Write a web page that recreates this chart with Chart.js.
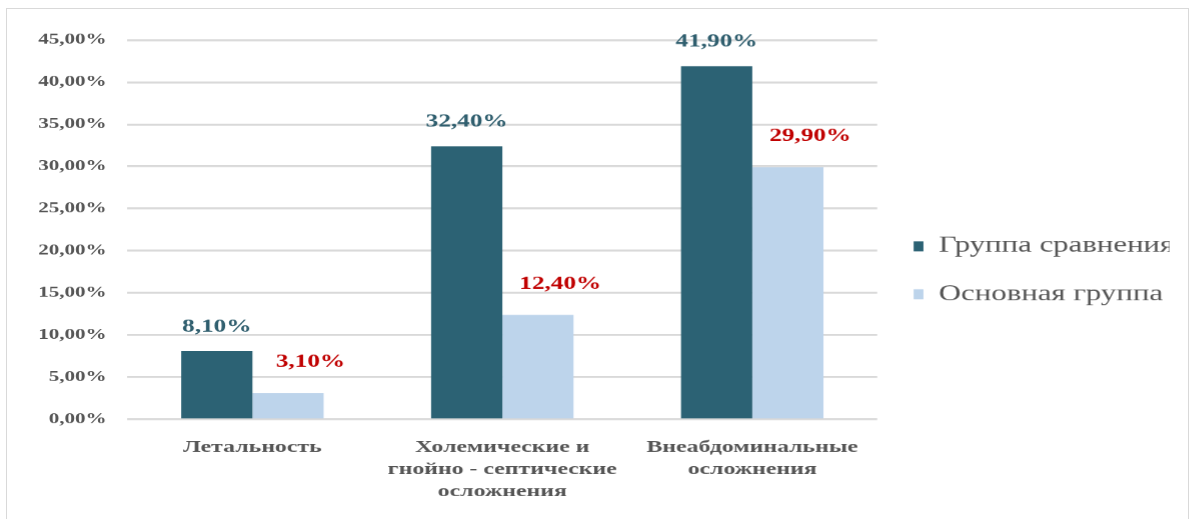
<!DOCTYPE html>
<html lang="ru">
<head>
<meta charset="utf-8">
<title>Осложнения по группам</title>
<script src="https://cdn.jsdelivr.net/npm/chart.js@4.4.1/dist/chart.umd.min.js"></script>
<style>
    html, body {
        margin: 0;
        padding: 0;
        width: 1195px;
        height: 519px;
        overflow: hidden;
        background: #ffffff;
    }
    .frame {
        position: absolute;
        left: 6px;
        top: 8px;
        width: 1183px;
        height: 520px;
        border: 1px solid #d9d9d9;
        box-sizing: border-box;
    }
    /* шрифт в оригинале растянут по горизонтали */
    #chart {
        position: absolute;
        left: 0;
        top: 0;
        transform: scaleX(1.4);
        transform-origin: 0 0;
    }
</style>
</head>
<body>
<div class="frame"></div>
<canvas id="chart" width="854" height="519"></canvas>

<script>
// ========================================
// ДАННЫЕ
// ========================================

const categories = [
    ['Летальность'],
    ['Холемические и', 'гнойно - септические', 'осложнения'],
    ['Внеабдоминальные', 'осложнения']
];
const seriesNames = ['Группа сравнения', 'Основная группа'];
const comparisonGroup = [8.1, 32.4, 41.9];
const mainGroup = [3.1, 12.4, 29.9];
const yTicks = [0, 5, 10, 15, 20, 25, 30, 35, 40, 45];

const COLOR_DARK = '#2c6274';
const COLOR_LIGHT = '#bdd4eb';
const LABEL_DARK = '#2f5e6e';
const LABEL_RED = '#c00000';
const TEXT_GRAY = '#555555';
const SERIF = '"Liberation Serif", "Times New Roman", serif';

function formatPercent(v) {
    return v.toFixed(2).replace('.', ',') + '%';
}

// ========================================
// ПОДПИСИ ЗНАЧЕНИЙ
// ========================================

const valueLabels = {
    id: 'valueLabels',
    afterDatasetsDraw(chart) {
        const ctx = chart.ctx;
        ctx.save();
        ctx.font = 'bold 18px ' + SERIF;
        ctx.textAlign = 'center';
        ctx.textBaseline = 'middle';
        chart.data.datasets.forEach((ds, i) => {
            const meta = chart.getDatasetMeta(i);
            meta.data.forEach((bar, j) => {
                if (i === 0) {
                    // над столбцом
                    ctx.fillStyle = LABEL_DARK;
                    ctx.fillText(formatPercent(ds.data[j]), bar.x, bar.y - 24);
                } else {
                    // выше и правее столбца
                    ctx.fillStyle = LABEL_RED;
                    ctx.fillText(formatPercent(ds.data[j]), bar.x + 16, bar.y - 31);
                }
            });
        });
        ctx.restore();
    }
};

// ========================================
// ГРАФИК
// ========================================

const chart = new Chart(document.getElementById('chart'), {
    type: 'bar',
    data: {
        labels: categories,
        datasets: [
            {
                label: seriesNames[0],
                data: comparisonGroup,
                backgroundColor: COLOR_DARK,
                categoryPercentage: 0.57,
                barPercentage: 1.0
            },
            {
                label: seriesNames[1],
                data: mainGroup,
                backgroundColor: COLOR_LIGHT,
                categoryPercentage: 0.57,
                barPercentage: 1.0
            }
        ]
    },
    options: {
        responsive: false,
        devicePixelRatio: 1.4,
        animation: false,
        layout: {
            padding: { top: 40, left: 0, right: 19, bottom: 19 }
        },
        scales: {
            x: {
                grid: { display: false, drawTicks: false },
                border: { display: false },
                afterFit(axis) {
                    axis.height = 81;
                },
                ticks: {
                    color: TEXT_GRAY,
                    padding: 17,
                    maxRotation: 0,
                    autoSkip: false,
                    font: { family: SERIF, size: 17, weight: 'bold', lineHeight: 1.3 }
                }
            },
            y: {
                min: 0,
                max: 45,
                afterBuildTicks(axis) {
                    axis.ticks = yTicks.map(v => ({ value: v }));
                },
                afterFit(axis) {
                    axis.width = 91;
                },
                grid: {
                    color: '#d9d9d9',
                    lineWidth: 2,
                    drawTicks: false
                },
                border: { display: false },
                ticks: {
                    color: TEXT_GRAY,
                    padding: 15,
                    font: { family: SERIF, size: 15, weight: 'bold' },
                    callback: v => formatPercent(v)
                }
            }
        },
        plugins: {
            legend: {
                position: 'right',
                labels: {
                    color: TEXT_GRAY,
                    boxWidth: 7,
                    boxHeight: 10,
                    padding: 26,
                    font: { family: SERIF, size: 22 }
                }
            },
            tooltip: { enabled: false }
        }
    },
    plugins: [valueLabels]
});
</script>
</body>
</html>
